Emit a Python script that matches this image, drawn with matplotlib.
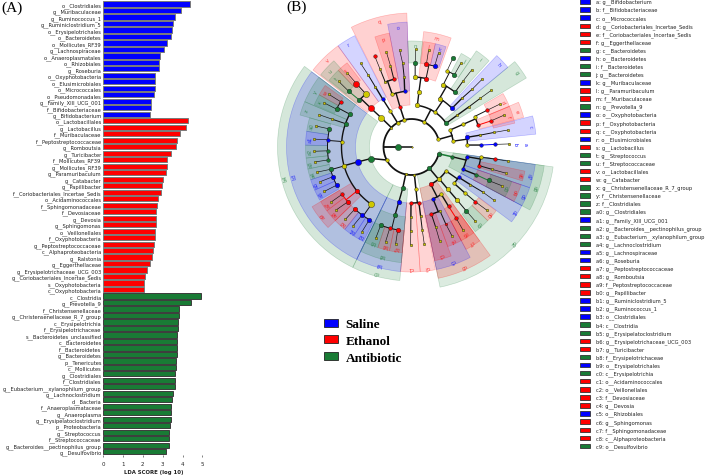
import numpy as np
import matplotlib
matplotlib.use("Agg")
import matplotlib.pyplot as plt
from matplotlib.patches import Patch

W, H = 709, 477
GROUP_COLORS = {"S": "#0000ff", "E": "#ff0000", "A": "#197b35", "Y": "#cfc800"}

# ---------- Panel A: LDA scores ----------
saline_labels = ["o__Clostridiales", "g__Muribaculaceae", "g__Ruminococcus_1", "g__Ruminiclostridium_5",
                 "o__Erysipelotrichales", "o__Bacteroidetes", "o__Mollicutes_RF39", "g__Lachnospiraceae",
                 "o__Anaeroplasmatales", "o__Rhizobiales", "g__Roseburia", "o__Oxyphotobacteria",
                 "o__Elusimicrobiales", "o__Micrococcales", "o__Pseudomonadales", "g__Family_XIII_UCG_001",
                 "f__Bifidobacteriaceae", "g__Bifidobacterium"]
saline_scores = [4.39, 3.92, 3.62, 3.52, 3.47, 3.40, 3.22, 3.08, 2.85, 2.81, 2.81, 2.63, 2.63, 2.61, 2.58,
                 2.41, 2.41, 2.37]
ethanol_labels = ["o__Lactobacillales", "g__Lactobacillus", "f__Muribaculaceae", "f__Peptostreptococcaceae",
                  "g__Romboutsia", "g__Turicibacter", "f__Mollicutes_RF39", "g__Mollicutes_RF39",
                  "g__Paramuribaculum", "g__Catabacter", "g__Papillibacter", "f__Coriobacteriales_Incertae_Sedis",
                  "o__Acidaminococcales", "f__Sphingomonadaceae", "f__Devosiaceae", "g__Devosia",
                  "g__Sphingomonas", "o__Veillonellales", "f__Oxyphotobacteria", "g__Peptostreptococcaceae",
                  "c__Alphaproteobacteria", "g__Ralstonia", "g__Eggerthellaceae", "g__Erysipelotrichaceae_UCG_003",
                  "g__Coriobacteriales_Incertae_Sedis", "s__Oxyphotobacteria", "c__Oxyphotobacteria"]
ethanol_scores = [4.26, 4.18, 3.87, 3.70, 3.67, 3.40, 3.22, 3.22, 3.18, 3.01, 2.95, 2.91, 2.78, 2.71, 2.66,
                  2.66, 2.66, 2.63, 2.63, 2.58, 2.51, 2.44, 2.34, 2.22, 2.10, 2.04, 2.04]
antibiotic_labels = ["c__Clostridia", "g__Prevotella_9", "f__Christensenellaceae", "g__Christensenellaceae_R_7_group",
                     "c__Erysipelotrichia", "f__Erysipelotrichaceae", "s__Bacteroidetes_unclassified",
                     "c__Bacteroidetes", "f__Bacteroidetes", "g__Bacteroidetes", "p__Tenericutes", "c__Mollicutes",
                     "g__Clostridiales", "f__Clostridiales", "g__Eubacterium__xylanophilum_group",
                     "g__Lachnoclostridium", "d__Bacteria", "f__Anaeroplasmataceae", "g__Anaeroplasma",
                     "g__Erysipelatoclostridium", "p__Proteobacteria", "g__Streptococcus", "f__Streptococcaceae",
                     "g__Bacteroides__pectinophilus_group", "g__Desulfovibrio"]
antibiotic_scores = [4.92, 4.44, 3.80, 3.80, 3.79, 3.79, 3.72, 3.72, 3.72, 3.72, 3.65, 3.65, 3.60, 3.60, 3.60,
                     3.50, 3.47, 3.43, 3.43, 3.43, 3.37, 3.33, 3.33, 3.33, 3.18]
x_ticks = [0, 1, 2, 3, 4, 5]

# ---------- Panel B: legend of the cladogram ----------
key_letters = ["a", "b", "c", "d", "e", "f", "g", "h", "i", "j", "k", "l", "m", "n", "o", "p", "q", "r", "s", "t",
               "u", "v", "w", "x", "y", "z", "a0", "a1", "a2", "a3", "a4", "a5", "a6", "a7", "a8", "a9",
               "b0", "b1", "b2", "b3", "b4", "b5", "b6", "b7", "b8", "b9",
               "c0", "c1", "c2", "c3", "c4", "c5", "c6", "c7", "c8", "c9"]
key_taxa = ["g__Bifidobacterium", "f__Bifidobacteriaceae", "o__Micrococcales", "g__Coriobacteriales_Incertae_Sedis",
            "f__Coriobacteriales_Incertae_Sedis", "g__Eggerthellaceae", "c__Bacteroidetes", "o__Bacteroidetes",
            "f__Bacteroidetes", "g__Bacteroidetes", "g__Muribaculaceae", "g__Paramuribaculum", "f__Muribaculaceae",
            "g__Prevotella_9", "o__Oxyphotobacteria", "f__Oxyphotobacteria", "c__Oxyphotobacteria",
            "o__Elusimicrobiales", "g__Lactobacillus", "g__Streptococcus", "f__Streptococcaceae", "o__Lactobacillales",
            "g__Catabacter", "g__Christensenellaceae_R_7_group", "f__Christensenellaceae", "f__Clostridiales",
            "g__Clostridiales", "g__Family_XIII_UCG_001", "g__Bacteroides__pectinophilus_group",
            "g__Eubacterium__xylanophilum_group", "g__Lachnoclostridium", "g__Lachnospiraceae", "g__Roseburia",
            "g__Peptostreptococcaceae", "g__Romboutsia", "f__Peptostreptococcaceae", "g__Papillibacter",
            "g__Ruminiclostridium_5", "g__Ruminococcus_1", "o__Clostridiales", "c__Clostridia",
            "g__Erysipelatoclostridium", "g__Erysipelotrichaceae_UCG_003", "g__Turicibacter", "f__Erysipelotrichaceae",
            "o__Erysipelotrichales", "c__Erysipelotrichia", "o__Acidaminococcales", "o__Veillonellales",
            "f__Devosiaceae", "g__Devosia", "o__Rhizobiales", "g__Sphingomonas", "f__Sphingomonadaceae",
            "c__Alphaproteobacteria", "o__Desulfovibrio"]
key_groups = list("SSSEEEASAASEEASEESEAAEEAAAASAAASSEEEESSSAAEEASAEEEESEEEA")

group_names = ["Saline", "Ethanol", "Antibiotic"]
panel_titles = ["(A)", "(B)"]

# ---------- Panel B: clades (label, first angle, last angle, group), one list per rank ----------
genus_clades = [("d", 22.5, 30.3, "E"), ("f", 13, 22.5, "E"), ("j", 56, 62, "A"), ("k", 71, 77, "S"),
                ("l", 77, 83.5, "E"), ("n", 84, 92, "A"), ("s", 127.4, 133.7, "E"), ("t", 133.7, 141, "A"),
                ("w", 144.5, 150.5, "E"), ("x", 150.5, 156.5, "A"), ("a0", 164, 171.5, "A"), ("a1", 171.5, 179, "S"),
                ("a2", 179, 186, "A"), ("a3", 186, 192, "A"), ("a4", 192, 198, "A"), ("a5", 198, 204, "S"),
                ("a6", 204, 210, "S"), ("a7", 211, 217, "E"), ("a8", 217, 224, "E"), ("b0", 224, 231, "E"),
                ("b1", 231, 237, "S"), ("b2", 237, 243, "S"), ("b5", 244, 251.5, "A"), ("b6", 251.5, 258, "E"),
                ("b7", 258, 265, "E"), ("c4", 290, 298, "E"), ("c6", 298, 306, "E"), ("c9", 307, 316, "A"),
                ("d0", 316, 323, "E"), ("d3", 332, 341, "A")]
family_clades = [("e", 14.8, 22.7, "E"), ("i", 48, 56, "A"), ("m", 70, 84, "E"), ("p", 101, 108.4, "E"),
                 ("u", 132, 141.5, "A"), ("y", 143, 157, "A"), ("z", 157, 164, "A"), ("a9", 211, 224, "E"),
                 ("b8", 244, 265, "A"), ("c3", 281.5, 290, "E"), ("c7", 298, 306, "E"), ("d4", 332, 341, "E"),
                 ("d6", 343, 348, "E")]
order_clades = [("c", 5.9, 14.4, "S"), ("h", 39.6, 47, "S"), ("o", 92, 101, "S"), ("r", 117, 126, "S"),
                ("v", 126, 142, "E"), ("b3", 143, 244, "S"), ("b9", 244, 265, "S"), ("c1", 265, 274, "E"),
                ("c2", 274, 281, "E"), ("c5", 281.5, 298, "S"), ("d1", 323.2, 332, "S"), ("d5", 332, 341, "S"),
                ("d7", 341, 352, "S")]
class_clades = [("g", 31, 39.6, "A"), ("q", 92, 116.7, "E"), ("b4", 143, 244, "A"), ("c0", 244, 265, "A"),
                ("c8", 281.5, 306, "E"), ("d8", 332, 352, "A")]
phylum_clades = [("d2", 281.5, 352, "A")]
tip_labels = [("b", 1.8, 7.4, "S"), ("a", 1.8, 8.1, "S")]

# ---------- Panel B: tree nodes (name, parent, angle, depth, group, weight), one list per branch ----------
base_nodes = [("root", None, 180, 0, "Y", 0.5), ("K", "root", 180, 1, "A", 4),
              ("P1", "K", 15.7, 2, "Y", 2), ("P2", "K", 62.6, 2, "Y", 2), ("P3", "K", 105, 2, "Y", 2),
              ("P4", "K", 120, 2, "Y", 2), ("P5", "K", 136, 2, "Y", 1), ("P6", "K", 207.7, 2, "Y", 2),
              ("P7", "K", 258, 2, "Y", 1), ("P8", "K", 276, 2, "Y", 1), ("P9", "K", 310, 2, "A", 3),
              ("P10", "K", 346, 2, "A", 3)]
actino_nodes = [("C1a", "P1", 23.8, 3, "Y", 2), ("O1a", "C1a", 23.7, 4, "Y", 2), ("F1a", "O1a", 25.8, 5, "Y", 2),
                ("F1b", "O1a", 18.2, 5, "E", 2), ("G1a", "F1a", 25.9, 6, "E", 2), ("T1a", "G1a", 25.9, 7, "Y", 1),
                ("G1b", "F1b", 18.2, 6, "E", 2), ("T1b", "G1b", 19, 7, "Y", 1), ("C1b", "P1", 8, 3, "Y", 2),
                ("O1b", "C1b", 9.9, 4, "S", 3), ("O1c", "C1b", 2, 4, "Y", 2), ("F1c", "O1b", 9.8, 5, "Y", 1),
                ("G1c", "F1c", 10, 6, "Y", 1), ("T1c", "G1c", 10, 7, "Y", 1), ("F1d", "O1c", 1.6, 5, "S", 2),
                ("G1d", "F1d", 1.8, 6, "S", 2), ("T1d", "G1d", 1.8, 7, "Y", 1)]
bactero_nodes = [("C2a", "P2", 82, 3, "Y", 3), ("O2a", "C2a", 82.3, 4, "Y", 3), ("F2a", "O2a", 87, 5, "Y", 3),
                 ("F2b", "O2a", 78, 5, "E", 3), ("G2a", "F2a", 87.5, 6, "A", 3), ("T2a", "G2a", 87.5, 7, "Y", 1),
                 ("G2b", "F2b", 79.8, 6, "E", 3), ("G2c", "F2b", 74, 6, "S", 3), ("T2b", "G2b", 80, 7, "Y", 1),
                 ("T2c", "G2c", 74, 7, "Y", 1), ("C2b", "P2", 56, 3, "Y", 2), ("O2b", "C2b", 60, 4, "Y", 3),
                 ("O2c", "C2b", 43.7, 4, "S", 3), ("F2c", "O2b", 63, 5, "Y", 3), ("F2d", "O2b", 51.5, 5, "A", 3),
                 ("G2d", "F2c", 65, 6, "Y", 2), ("G2e", "F2c", 59.3, 6, "A", 3), ("T2d", "G2d", 65, 7, "A", 3),
                 ("T2e", "G2e", 59.5, 7, "Y", 1), ("G2f", "F2d", 52, 6, "Y", 1), ("T2f", "G2f", 52, 7, "Y", 1),
                 ("F2e", "O2c", 44, 5, "Y", 1), ("G2g", "F2e", 43.6, 6, "Y", 1), ("T2g", "G2g", 43.8, 7, "Y", 1),
                 ("C2c", "P2", 34.4, 3, "A", 3), ("O2d", "C2c", 34.8, 4, "Y", 1), ("F2f", "O2d", 35, 5, "Y", 1),
                 ("G2h", "F2f", 35.3, 6, "Y", 1), ("T2h", "G2h", 35.4, 7, "Y", 1)]
cyano_nodes = [("C3", "P3", 106, 3, "E", 2), ("O3a", "C3", 97, 4, "S", 2), ("O3b", "C3", 110, 4, "Y", 2),
               ("F3a", "O3a", 96, 5, "Y", 1), ("G3a", "F3a", 96, 6, "Y", 1), ("T3a", "G3a", 97, 7, "Y", 1),
               ("F3b", "O3b", 112, 5, "Y", 1), ("F3c", "O3b", 104.6, 5, "E", 2), ("G3b", "F3b", 112, 6, "Y", 1),
               ("T3b", "G3b", 112, 7, "E", 2), ("G3c", "F3c", 104.5, 6, "Y", 1), ("T3c", "G3c", 104.8, 7, "Y", 1),
               ("C4", "P4", 120.5, 3, "Y", 2), ("O4", "C4", 121, 4, "S", 2), ("F4", "O4", 121, 5, "Y", 1),
               ("G4", "F4", 121, 6, "Y", 1), ("T4", "G4", 121.3, 7, "Y", 1)]
bacilli_nodes = [("C5", "P5", 136, 3, "Y", 4), ("O5", "C5", 136.3, 4, "E", 4), ("F5a", "O5", 138, 5, "A", 3),
                 ("F5b", "O5", 130.7, 5, "Y", 4), ("G5a", "F5a", 138.4, 6, "A", 3), ("T5a", "G5a", 138, 7, "Y", 1),
                 ("G5b", "F5b", 131, 6, "E", 4), ("T5b", "G5b", 131, 7, "Y", 1)]
clostridia_nodes = [("C6", "P6", 195.9, 3, "A", 4), ("O6", "C6", 195.5, 4, "S", 4),
                    ("F6a", "O6", 152, 5, "A", 3), ("F6b", "O6", 160.5, 5, "A", 3), ("F6c", "O6", 175.5, 5, "Y", 2),
                    ("F6d", "O6", 195.7, 5, "Y", 3), ("F6e", "O6", 218.9, 5, "E", 3), ("F6f", "O6", 235, 5, "Y", 4),
                    ("G6a", "F6a", 147.4, 6, "E", 2), ("G6b", "F6a", 153.2, 6, "A", 3), ("G6c", "F6b", 160.7, 6, "Y", 1),
                    ("G6d", "F6c", 167.6, 6, "A", 3), ("G6e", "F6c", 175, 6, "S", 2), ("G6f", "F6c", 182.6, 6, "A", 2),
                    ("G6g", "F6c", 188.8, 6, "A", 2), ("G6h", "F6d", 195.4, 6, "A", 3), ("G6i", "F6d", 200.7, 6, "S", 3),
                    ("G6j", "F6d", 207, 6, "S", 3), ("G6k", "F6e", 214.3, 6, "E", 2), ("G6l", "F6e", 220.7, 6, "E", 3),
                    ("G6m", "F6f", 227.6, 6, "E", 3), ("G6n", "F6f", 234, 6, "S", 3), ("G6o", "F6f", 239.9, 6, "S", 3),
                    ("T6a", "G6a", 147.5, 7, "Y", 1), ("T6b", "G6b", 153.2, 7, "Y", 1), ("T6c", "G6c", 160.7, 7, "Y", 1),
                    ("T6d", "G6d", 167.6, 7, "Y", 1), ("T6e", "G6e", 175.4, 7, "Y", 1), ("T6f", "G6f", 182.5, 7, "Y", 1),
                    ("T6g", "G6g", 188.8, 7, "Y", 1), ("T6h", "G6h", 194.9, 7, "Y", 1), ("T6i", "G6i", 200.8, 7, "Y", 1),
                    ("T6j", "G6j", 207, 7, "Y", 1), ("T6k", "G6k", 214.4, 7, "Y", 1), ("T6l", "G6l", 219.9, 7, "Y", 1),
                    ("T6m", "G6m", 227.6, 7, "Y", 1), ("T6n", "G6n", 233.5, 7, "Y", 1), ("T6o", "G6o", 239.7, 7, "Y", 1)]
erysipelo_nodes = [("C7", "P7", 258, 3, "A", 3), ("O7", "C7", 257, 4, "S", 3), ("F7", "O7", 256.4, 5, "A", 3),
                   ("G7a", "F7", 248.5, 6, "A", 3), ("G7b", "F7", 255, 6, "E", 2), ("G7c", "F7", 260.6, 6, "E", 3),
                   ("T7a", "G7a", 248.6, 7, "Y", 1), ("T7b", "G7b", 254.7, 7, "Y", 1), ("T7c", "G7c", 260.7, 7, "Y", 1)]
negativi_nodes = [("C8", "P8", 276, 3, "Y", 2), ("O8a", "C8", 269.5, 4, "E", 2), ("O8b", "C8", 277.6, 4, "E", 2),
                  ("F8a", "O8a", 269.5, 5, "Y", 1), ("G8a", "F8a", 269.5, 6, "Y", 1), ("T8a", "G8a", 269.5, 7, "Y", 1),
                  ("F8b", "O8b", 277.5, 5, "Y", 1), ("G8b", "F8b", 277.4, 6, "Y", 1), ("T8b", "G8b", 277.5, 7, "Y", 1)]
proteo_nodes = [("C9a", "P9", 297.2, 3, "E", 3), ("C9b", "P9", 311, 3, "Y", 3), ("C9c", "P9", 325.2, 3, "Y", 2),
                ("O9a", "C9a", 292.5, 4, "S", 2), ("O9b", "C9a", 302.2, 4, "Y", 2), ("F9a", "O9a", 294, 5, "Y", 1),
                ("F9b", "O9a", 286.5, 5, "E", 2), ("G9a", "F9a", 294, 6, "E", 1), ("T9a", "G9a", 294.5, 7, "Y", 1),
                ("G9b", "F9b", 286.8, 6, "Y", 1), ("T9b", "G9b", 286.7, 7, "Y", 1), ("F9c", "O9b", 302, 5, "E", 2),
                ("G9c", "F9c", 302.1, 6, "E", 2), ("T9c", "G9c", 301.8, 7, "Y", 1), ("O9c", "C9b", 310.7, 4, "Y", 3),
                ("F9d", "O9c", 310.7, 5, "Y", 3), ("G9d", "F9d", 310.6, 6, "A", 3), ("T9d", "G9d", 310.7, 7, "Y", 1),
                ("O9d", "C9c", 327.3, 4, "S", 2), ("O9e", "C9c", 319.5, 4, "Y", 2), ("F9e", "O9d", 327.4, 5, "Y", 1),
                ("G9e", "F9e", 327.7, 6, "Y", 1), ("T9e", "G9e", 327.2, 7, "Y", 1), ("F9f", "O9e", 319.3, 5, "Y", 2),
                ("G9f", "F9f", 319.4, 6, "E", 2), ("T9f", "G9f", 320, 7, "Y", 1)]
gamma_nodes = [("C10", "P10", 346.5, 3, "A", 2), ("O10a", "C10", 350.1, 4, "S", 2), ("O10b", "C10", 336.4, 4, "S", 2),
               ("F10a", "O10a", 351.6, 5, "Y", 2), ("F10b", "O10a", 344.6, 5, "E", 2), ("G10a", "F10a", 351.8, 6, "E", 2),
               ("T10a", "G10a", 351.7, 7, "Y", 1), ("G10b", "F10b", 344.5, 6, "Y", 1), ("T10b", "G10b", 344.5, 7, "Y", 1),
               ("F10c", "O10b", 336.8, 5, "A", 2), ("G10c", "F10c", 336.5, 6, "A", 3), ("T10c", "G10c", 336.8, 7, "Y", 1)]

all_nodes = (base_nodes + actino_nodes + bactero_nodes + cyano_nodes + bacilli_nodes + clostridia_nodes
             + erysipelo_nodes + negativi_nodes + proteo_nodes + gamma_nodes)

# ---------- Figure ----------
plt.rcParams["font.family"] = "DejaVu Sans"
fig = plt.figure(figsize=(W / 100, H / 100), dpi=100, facecolor="white")

# Panel A bars
ax = fig.add_axes([103.3 / W, 1 - 456 / H, 108.9 / W, 456 / H])
labels = saline_labels + ethanol_labels + antibiotic_labels
scores = saline_scores + ethanol_scores + antibiotic_scores
groups = ["S"] * len(saline_scores) + ["E"] * len(ethanol_scores) + ["A"] * len(antibiotic_scores)
positions = np.arange(len(scores))
edge = {"S": "#7a7a7a", "E": "#7a7a7a", "A": "#3c3c3c"}
ax.barh(positions, scores, height=0.8, color=[GROUP_COLORS[g] for g in groups],
        edgecolor=[edge[g] for g in groups], linewidth=0.7)
ax.set_xlim(0, 5.5)
ax.set_ylim(69.5, -0.77)
ax.set_yticks(positions)
ax.set_yticklabels(labels, fontsize=3.7, color="#222222")
ax.tick_params(axis="y", length=0, pad=1.2)
ax.set_xticks(x_ticks)
ax.tick_params(axis="x", labelsize=4, length=1.5, width=0.4, pad=2.5, colors="#222222")
for s in ax.spines.values():
    s.set_visible(False)
ax.set_xlabel("LDA SCORE (log 10)", fontsize=3.9, fontweight="bold", labelpad=2.2, color="#222222", x=0.46)

# Panel B cladogram
pax = fig.add_axes([(411.5 - 150) / W, 1 - (148 + 150) / H, 300 / W, 300 / H], projection="polar")
pax.set_ylim(0, 150)
pax.axis("off")
pax.patch.set_alpha(0)

STEP = 14.0
rank_rings = [(phylum_clades, 2, 143, 0.15), (class_clades, 3, 134, 0.18), (order_clades, 4, 125, 0.17),
              (family_clades, 5, 116, 0.17), (genus_clades, 6, 106, 0.17)]
for clades, depth, outer, alpha in rank_rings:
    for label, a1, a2, g in clades:
        base = matplotlib.colors.to_rgb(GROUP_COLORS[g])
        inner = depth * STEP
        pax.bar(np.radians((a1 + a2) / 2), outer - inner, width=np.radians(a2 - a1), bottom=inner,
                facecolor=base + (alpha,), edgecolor=base + (0.25,), linewidth=0.45, zorder=2)
        pax.text(np.radians((a1 + a2) / 2), outer - 4.5, label, fontsize=3.6, color=GROUP_COLORS[g],
                 rotation=(a1 + a2) / 2 - 90, rotation_mode="anchor", ha="center", va="center", zorder=6,
                 alpha=0.75)
for label, ang, depth, g in tip_labels:
    pax.text(np.radians(ang), depth * STEP, label, fontsize=3.4, color=GROUP_COLORS[g],
             rotation=ang - 90, rotation_mode="anchor", ha="center", va="center", zorder=6)

by_name = {n[0]: n for n in all_nodes}
children = {}
for n in all_nodes:
    if n[1] is not None:
        children.setdefault(n[1], []).append(n)


def branch_width(depth):
    return {1: 1.1, 2: 1.3, 3: 1.1, 4: 1.0, 5: 1.0, 6: 0.7, 7: 0.45}[depth]


for name, kids in children.items():
    parent = by_name[name]
    depth = kids[0][3]
    rc = depth * STEP
    lw = branch_width(depth)
    angs = [k[2] for k in kids]
    if len(kids) == 1:
        k = kids[0]
        col = GROUP_COLORS[k[4]] if k[4] == parent[4] and k[4] != "Y" else "#111111"
        pax.plot(np.radians([parent[2], k[2]]), [parent[3] * STEP, rc], color=col, lw=lw, zorder=3,
                 solid_capstyle="round")
    else:
        span = np.radians(np.linspace(min(angs + [parent[2]]), max(angs + [parent[2]]), 60))
        same = {k[4] for k in kids} == {parent[4]} and parent[4] != "Y"
        col = GROUP_COLORS[parent[4]] if same else "#111111"
        pax.plot(span, np.full(span.size, rc), color=col, lw=lw, zorder=3, solid_capstyle="round")
        pax.plot(np.radians([parent[2], parent[2]]), [parent[3] * STEP, rc], color=col, lw=lw, zorder=3)

SIZE_PX = {0.5: 1.5, 1: 2.6, 2: 3.6, 3: 4.6, 4: 6.2}
for name, parent, ang, depth, g, wt in all_nodes:
    d = SIZE_PX[wt] * 0.72
    pax.scatter(np.radians(ang), depth * STEP, s=d * d, color=GROUP_COLORS[g], edgecolors="#222222",
                linewidths=0.3, zorder=5)

# Legend rows to the right
lax = fig.add_axes([578 / W, 0, 131 / W, 1])
lax.set_xlim(-0.2, 12.9)
lax.set_ylim((H - 2.5) / 8.08, -2.5 / 8.08)
lax.axis("off")
rows = np.arange(len(key_letters))
lax.barh(rows, 1.0, height=0.55, color=[GROUP_COLORS[g] for g in key_groups], edgecolor="#333333", linewidth=0.6)
for i, (k, t) in enumerate(zip(key_letters, key_taxa)):
    lax.text(1.55, i, f"{k}: {t}", fontsize=3.7, va="center", ha="left", color="#222222")

# Group legend
handles = [Patch(facecolor=GROUP_COLORS[g], edgecolor="#222222", linewidth=0.6) for g in "SEA"]
fig.legend(handles, group_names, loc="upper left", bbox_to_anchor=(324 / W, 1 - 319.5 / H),
           prop={"family": "Liberation Serif", "weight": "bold", "size": 9.5}, frameon=False,
           handlelength=1.05, handleheight=0.55, handletextpad=0.6, labelspacing=0.35, borderpad=0, borderaxespad=0)

fig.text(1 / W, 1 - 8 / H, panel_titles[0], fontsize=11, family="Liberation Serif", va="center", ha="left")
fig.text(286 / W, 1 - 7 / H, panel_titles[1], fontsize=11, family="Liberation Serif", va="center", ha="left")

fig.savefig("out.png", dpi=100)
